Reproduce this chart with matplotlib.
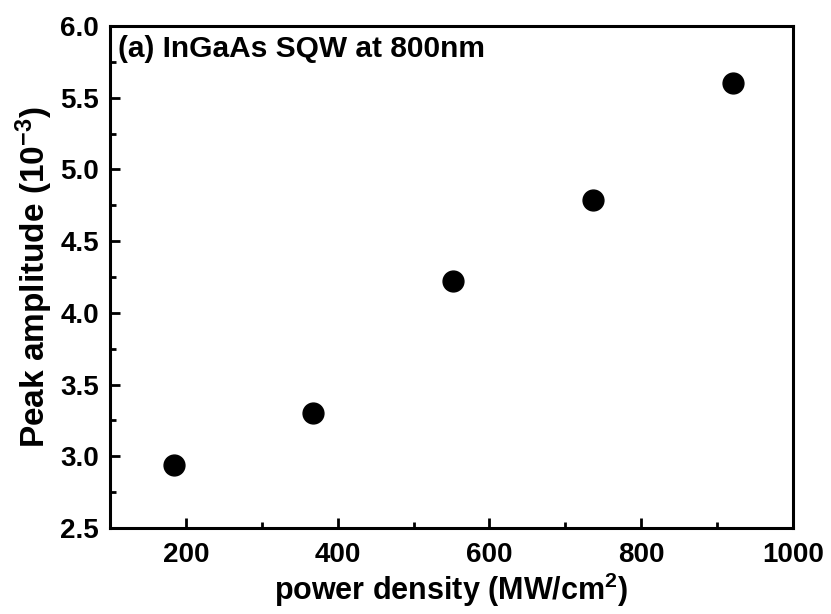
import matplotlib.pyplot as plt
from matplotlib.ticker import MultipleLocator

# power density (MW/cm^2) vs peak amplitude (1e-3)
power = [184, 368, 552, 737, 921]
amplitude = [2.94, 3.30, 4.22, 4.79, 5.60]

plt.rcParams['font.family'] = ['Liberation Sans', 'DejaVu Sans']
plt.rcParams['font.weight'] = 'bold'
plt.rcParams['mathtext.fontset'] = 'custom'
plt.rcParams['mathtext.rm'] = 'Liberation Sans:bold'
plt.rcParams['mathtext.bf'] = 'Liberation Sans:bold'
plt.rcParams['mathtext.default'] = 'bf'

fig = plt.figure(figsize=(8.31, 6.14), dpi=100)
ax = fig.add_axes([110/831, 1 - 528/614, (793 - 110)/831, (528 - 26)/614])

ax.plot(power, amplitude, 'o', color='black', markersize=15, linestyle='none')

ax.set_xlim(100, 1000)
ax.set_ylim(2.5, 6.0)
ax.xaxis.set_major_locator(MultipleLocator(200))
ax.xaxis.set_minor_locator(MultipleLocator(100))
ax.yaxis.set_major_locator(MultipleLocator(0.5))
ax.yaxis.set_minor_locator(MultipleLocator(0.25))
ax.yaxis.set_major_formatter(plt.FormatStrFormatter('%.1f'))

for s in ax.spines.values():
    s.set_linewidth(2.2)
ax.tick_params(which='both', direction='in', width=2, labelsize=20, top=False, right=False)
ax.tick_params(which='major', length=7)
ax.tick_params(axis='x', which='major', pad=10)
ax.tick_params(axis='y', which='major', pad=8)
ax.tick_params(which='minor', length=4)
for lab in ax.get_xticklabels() + ax.get_yticklabels():
    lab.set_fontweight('bold')

ax.set_xlabel(r'power density (MW/cm$^{2}$)', fontsize=22, fontweight='bold', labelpad=2)
ax.set_ylabel(r'Peak amplitude (10$^{-3}$)', fontsize=24, fontweight='bold', labelpad=4)
ax.text(0.012, 0.955, '(a) InGaAs SQW at 800nm', transform=ax.transAxes,
        fontsize=21.5, fontweight='bold', va='center', ha='left')

fig.savefig('out.png', dpi=100)
